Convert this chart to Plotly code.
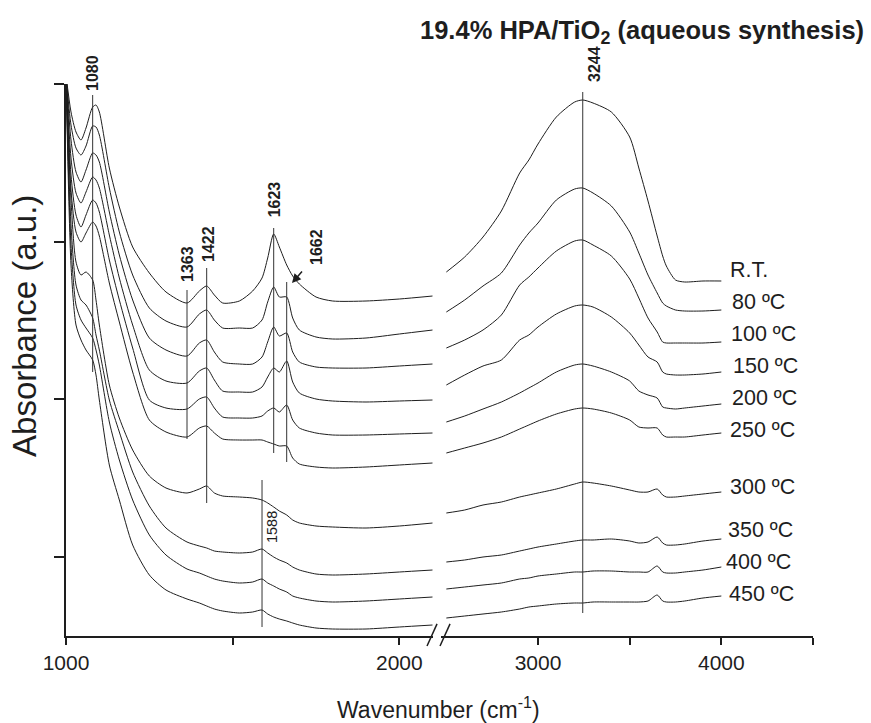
import plotly.graph_objects as go

# ---------------- data (absorbance, arbitrary units) ----------------
temps = ["R.T.", "80 ºC", "100 ºC", "150 ºC", "200 ºC", "250 ºC",
         "300 ºC", "350 ºC", "400 ºC", "450 ºC"]

# low-wavenumber window (cm-1)
wn_low = [1000, 1015, 1030, 1045, 1060, 1080, 1090, 1100, 1130, 1160, 1200,
          1250, 1300, 1363, 1400, 1422, 1445, 1470, 1520, 1560, 1588, 1605,
          1623, 1640, 1662, 1680, 1700, 1750, 1800, 1900, 2000, 2100]

low_rt = [561, 524, 504, 496, 508, 529, 531, 524, 468, 429, 389, 363, 344, 333, 345, 350,
          341, 333, 335, 345, 358, 378, 402, 389, 371, 360, 352, 339, 335, 335, 337, 340]
low_80 = [561, 511, 488, 481, 490, 510, 509, 501, 448, 404, 361, 328, 315, 309, 322, 326,
          316, 308, 308, 308, 316, 334, 349, 339, 339, 318, 306, 299, 297, 298, 302, 306]
low_100 = [561, 496, 464, 454, 466, 483, 481, 474, 424, 381, 336, 298, 286, 280, 293, 296,
           284, 274, 272, 272, 279, 294, 309, 300, 303, 284, 274, 269, 268, 268, 270, 272]
low_150 = [561, 478, 443, 433, 444, 459, 456, 448, 401, 358, 311, 266, 255, 253, 265, 268,
           256, 245, 244, 244, 249, 259, 268, 264, 275, 254, 243, 237, 235, 234, 235, 236]
low_200 = [561, 461, 421, 409, 421, 436, 433, 424, 376, 336, 288, 236, 228, 227, 237, 239,
           228, 219, 218, 218, 220, 225, 228, 224, 231, 216, 208, 203, 201, 201, 202, 203]
low_250 = [561, 446, 404, 394, 403, 414, 410, 400, 353, 314, 264, 216, 204, 199, 208, 210,
           203, 197, 196, 196, 196, 194, 192, 190, 190, 178, 172, 169, 168, 169, 171, 173]
low_300 = [561, 436, 374, 361, 364, 356, 336, 311, 251, 218, 186, 160, 148, 143, 147, 150,
           143, 140, 139, 138, 136, 133, 129, 125, 121, 116, 113, 110, 109, 108, 110, 113]
low_350 = [561, 411, 351, 336, 331, 318, 301, 286, 236, 204, 164, 130, 108, 94, 90, 88,
           85, 84, 83, 84, 87, 83, 79, 76, 73, 69, 66, 62, 61, 62, 64, 66]
low_400 = [561, 391, 331, 316, 308, 298, 286, 271, 214, 176, 136, 101, 81, 67, 63, 60,
           57, 55, 53, 54, 57, 53, 50, 47, 44, 40, 38, 35, 34, 35, 37, 39]
low_450 = [561, 371, 311, 296, 286, 276, 261, 236, 171, 136, 91, 61, 46, 37, 33, 30,
           27, 25, 23, 24, 26, 22, 19, 17, 15, 13, 11, 8, 7, 7, 9, 11]

# high-wavenumber window (cm-1)
wn_high = [2500, 2600, 2700, 2800, 2900, 2950, 3000, 3100, 3200, 3244, 3300,
           3400, 3500, 3550, 3600, 3650, 3680, 3700, 3750, 3800, 3900, 4000]

high_rt = [364, 379, 399, 425, 463, 476, 492, 519, 534, 536, 533,
           524, 499, 468, 435, 400, 380, 370, 356, 354, 355, 355]
high_80 = [324, 336, 350, 363, 391, 403, 413, 436, 447, 448, 443,
           430, 404, 383, 361, 343, 333, 330, 326, 325, 325, 326]
high_100 = [288, 296, 306, 321, 351, 359, 368, 385, 395, 396, 391,
            380, 357, 338, 318, 304, 294, 293, 293, 293, 293, 294]
high_150 = [251, 261, 270, 276, 296, 301, 309, 322, 330, 331, 329,
            319, 303, 291, 279, 274, 264, 262, 261, 261, 262, 264]
high_200 = [214, 220, 227, 234, 243, 248, 253, 264, 271, 272, 270,
            264, 255, 245, 241, 238, 229, 228, 227, 228, 230, 232]
high_250 = [183, 188, 193, 199, 207, 211, 215, 222, 227, 228, 227,
            223, 216, 209, 208, 208, 201, 199, 199, 199, 201, 203]
high_300 = [123, 126, 131, 134, 139, 141, 143, 147, 152, 154, 153,
            150, 146, 144, 144, 147, 141, 139, 139, 140, 142, 144]
high_350 = [74, 76, 79, 81, 85, 87, 89, 92, 95, 96, 96,
            97, 95, 93, 94, 99, 93, 91, 91, 92, 95, 97]
high_400 = [47, 49, 51, 53, 57, 58, 60, 62, 64, 64, 65,
            65, 64, 64, 64, 70, 64, 63, 63, 64, 66, 69]
high_450 = [18, 20, 22, 24, 27, 29, 30, 32, 33, 33, 34,
            34, 34, 34, 35, 41, 35, 34, 34, 35, 38, 40]

low_series = [low_rt, low_80, low_100, low_150, low_200, low_250,
              low_300, low_350, low_400, low_450]
high_series = [high_rt, high_80, high_100, high_150, high_200, high_250,
               high_300, high_350, high_400, high_450]

# temperature label positions (wavenumber of left edge, absorbance of centre)
label_wn = [4036, 4047, 4042, 4053, 4047, 4036, 4036, 4025, 4015, 4031]
label_abs = [366, 334, 302, 270, 238, 206, 149, 106, 74, 42]

# peak marker lines: (wavenumber, axis, bottom, top)
peak_wn = [1080, 1363, 1422, 1623, 1662, 1588, 3244]
peak_axis = ["x", "x", "x", "x", "x", "x", "x2"]
peak_bottom = [264, 197, 133, 183, 174, 9, 23]
peak_top = [541, 346, 368, 408, 354, 156, 544]

# peak labels
plabel_text = ["1080", "1363", "1422", "1623", "1662", "3244"]
plabel_wn = [1078, 1363, 1426, 1625, 1750, 3305]
plabel_axis = ["x", "x", "x", "x", "x", "x2"]
plabel_abs = [543, 352, 372, 417, 369, 552]

x_low_ticks = [1000, 1500, 2000]
x_low_text = ["1000", "", "2000"]
x_high_ticks = [3000, 3500, 4000, 4500]
x_high_text = ["3000", "", "4000", ""]
y_ticks = [79.3, 237, 394.3, 551.7]

FONT = "Liberation Sans, Arial, Helvetica, sans-serif"
INK = "#1e1e1e"

fig = go.Figure()
for yl, yh in zip(low_series, high_series):
    fig.add_trace(go.Scatter(x=wn_low, y=yl, xaxis="x", yaxis="y", mode="lines",
                             line=dict(color=INK, width=1, shape="spline", smoothing=0.7),
                             showlegend=False, hoverinfo="skip"))
    fig.add_trace(go.Scatter(x=wn_high, y=yh, xaxis="x2", yaxis="y", mode="lines",
                             line=dict(color=INK, width=1, shape="spline", smoothing=0.7),
                             showlegend=False, hoverinfo="skip"))

shapes = []
for w, ax, b, t in zip(peak_wn, peak_axis, peak_bottom, peak_top):
    shapes.append(dict(type="line", xref=ax, yref="y", x0=w, x1=w, y0=b, y1=t,
                       line=dict(color="#333333", width=1)))
# axis break marks
for x0, x1 in [(0.4833, 0.4967), (0.5007, 0.5141)]:
    shapes.append(dict(type="line", xref="paper", yref="paper", x0=x0, x1=x1,
                       y0=-0.018, y1=0.022, line=dict(color=INK, width=1.5)))

ann = []
for name, w, a in zip(temps, label_wn, label_abs):
    ann.append(dict(xref="x2", yref="y", x=w, y=a, text=name, showarrow=False,
                    xanchor="left", yanchor="middle",
                    font=dict(family=FONT, size=21.5, color=INK)))
for t, w, ax, a in zip(plabel_text, plabel_wn, plabel_axis, plabel_abs):
    ann.append(dict(xref=ax, yref="y", x=w, y=a, text="<b>%s</b>" % t, showarrow=False,
                    textangle=-90, xanchor="center", yanchor="bottom",
                    font=dict(family=FONT, size=16, color=INK)))
ann.append(dict(xref="x", yref="y", x=1618, y=109, text="1588", showarrow=False,
                textangle=-90, xanchor="center", yanchor="middle",
                font=dict(family=FONT, size=14.5, color=INK)))
# arrow pointing to the 1662 shoulder
ann.append(dict(xref="x", yref="y", x=1678, y=353, text=" ", showarrow=True,
                ax=13, ay=-15, arrowhead=2, arrowsize=1.2, arrowwidth=1.5,
                arrowcolor=INK, standoff=0))
# titles
ann.append(dict(xref="paper", yref="paper", x=0.771, y=1.095,
                text="<b>19.4% HPA/TiO<sub>2</sub> (aqueous synthesis)</b>",
                showarrow=False, xanchor="center", yanchor="middle",
                font=dict(family=FONT, size=25.5, color=INK)))
ann.append(dict(xref="paper", yref="paper", x=0.498, y=-0.130,
                text="Wavenumber (cm<sup>-1</sup>)", showarrow=False,
                xanchor="center", yanchor="middle",
                font=dict(family=FONT, size=23, color=INK)))
ann.append(dict(xref="paper", yref="paper", x=-0.0549, y=0.5616,
                text="Absorbance (a.u.)", showarrow=False, textangle=-90,
                xanchor="center", yanchor="middle",
                font=dict(family=FONT, size=33, color=INK)))

axis_common = dict(showline=True, linecolor=INK, linewidth=1.5, ticks="outside",
                   ticklen=7, tickwidth=1.5, tickcolor=INK, showgrid=False,
                   zeroline=False, tickfont=dict(family=FONT, size=21, color=INK),
                   anchor="y", fixedrange=True)

fig.update_layout(
    width=871, height=723,
    margin=dict(l=66, r=58, t=84, b=87),
    paper_bgcolor="white", plot_bgcolor="white",
    font=dict(family=FONT, color=INK),
    xaxis=dict(domain=[0, 0.4909], range=[1000, 2100], tickmode="array",
               tickvals=x_low_ticks, ticktext=x_low_text, **axis_common),
    xaxis2=dict(domain=[0.5018, 1.0], range=[2470, 4500], tickmode="array",
                tickvals=x_high_ticks, ticktext=x_high_text, **axis_common),
    yaxis=dict(domain=[0, 1], range=[0, 552], showline=True, linecolor=INK,
               linewidth=1.5, ticks="outside", ticklen=10, tickwidth=1.5,
               tickcolor=INK, tickmode="array", tickvals=y_ticks,
               showticklabels=False, showgrid=False, zeroline=False,
               anchor="x", fixedrange=True),
    shapes=shapes, annotations=ann,
)

fig.write_html("out.html", config={"displayModeBar": False},
               post_script="document.body.style.margin='0';document.body.style.overflow='hidden';")
